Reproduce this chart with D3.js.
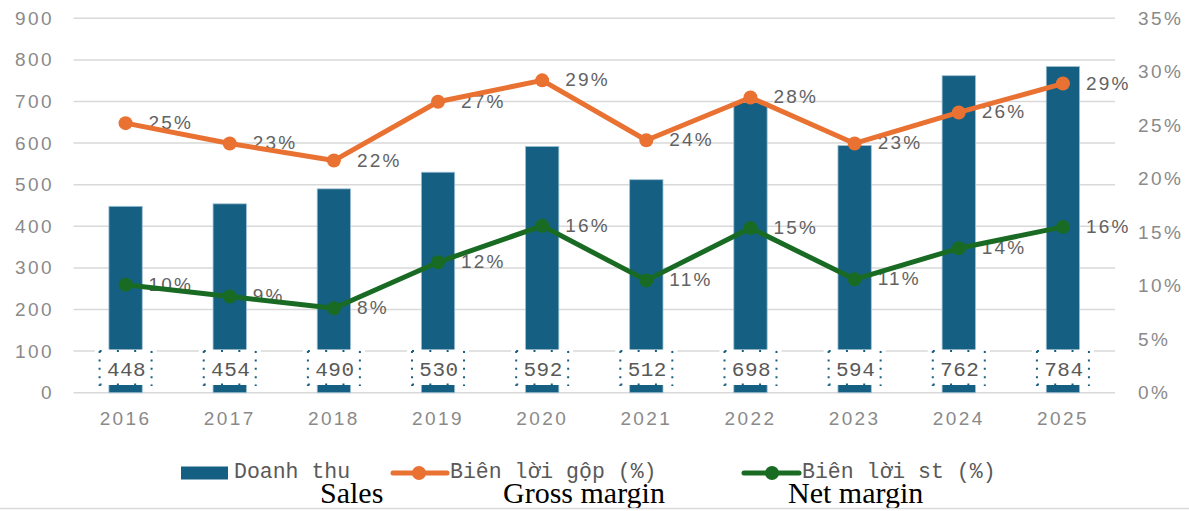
<!DOCTYPE html>
<html>
<head>
<meta charset="utf-8">
<script src="https://cdn.jsdelivr.net/npm/d3@7"></script>
<style>
  body { margin: 0; background: #fff; }
  svg { display: block; }
</style>
</head>
<body>
<div id="chart"></div>
<script>
// chart data
var years = ["2016", "2017", "2018", "2019", "2020", "2021", "2022", "2023", "2024", "2025"];
var sales = [448, 454, 490, 530, 592, 512, 698, 594, 762, 784];
var grossMargin = [25.2, 23.3, 21.7, 27.2, 29.2, 23.6, 27.6, 23.3, 26.2, 28.9];
var netMargin = [10.1, 9.0, 7.9, 12.2, 15.6, 10.5, 15.4, 10.6, 13.5, 15.5];
var leftTicks = [0, 100, 200, 300, 400, 500, 600, 700, 800, 900];
var rightTicks = [0, 5, 10, 15, 20, 25, 30, 35];

var W = 1189, H = 511;
// note: "top" is reserved on window, so keep plot edges in an object
var plot = { x0: 73.5, x1: 1115, y0: 18.3, y1: 392.7 };

var blue = "#156082", orange = "#e97132", green = "#196b24";
var sansFont = "'Liberation Sans', Arial, sans-serif";
var monoFont = "'Liberation Mono', 'Courier New', monospace";

var svg = d3.select("#chart").append("svg")
  .attr("width", W)
  .attr("height", H);

var x = d3.scaleBand().domain(years).range([plot.x0, plot.x1]).paddingInner(0.68).paddingOuter(0.34);
var yL = d3.scaleLinear().domain([0, 900]).range([plot.y1, plot.y0]);
var yR = d3.scaleLinear().domain([0, 35]).range([plot.y1, plot.y0]);
var cx = function (d, i) { return x(years[i]) + x.bandwidth() / 2; };

// gridlines
svg.append("g").selectAll("line")
  .data(leftTicks)
  .enter().append("line")
  .attr("x1", plot.x0).attr("x2", plot.x1)
  .attr("y1", d => yL(d)).attr("y2", d => yL(d))
  .attr("stroke", "#d9d9d9")
  .attr("stroke-width", 1.5);

// left axis
var axL = svg.append("g")
  .attr("transform", "translate(52,0)")
  .call(d3.axisLeft(yL).tickValues(leftTicks).tickSize(0).tickPadding(0));
axL.select(".domain").remove();

// right axis
var axR = svg.append("g")
  .attr("transform", "translate(1138,0)")
  .call(d3.axisRight(yR).tickValues(rightTicks).tickSize(0).tickPadding(0).tickFormat(d => d + "%"));
axR.select(".domain").remove();

// x axis
var axX = svg.append("g")
  .attr("transform", "translate(0," + plot.y1 + ")")
  .call(d3.axisBottom(x).tickSize(0).tickPadding(19));
axX.select(".domain").remove();

svg.selectAll(".tick text")
  .attr("font-family", sansFont)
  .attr("font-size", 19)
  .attr("letter-spacing", "2.4px")
  .attr("fill", "#8a8a8a");
axL.selectAll(".tick text").attr("dx", "2px");

// bars
svg.append("g").selectAll("rect")
  .data(sales)
  .enter().append("rect")
  .attr("x", (d, i) => x(years[i]))
  .attr("y", d => yL(d))
  .attr("width", x.bandwidth())
  .attr("height", d => plot.y1 - yL(d))
  .attr("fill", blue)
  .attr("stroke", "#9dbfd3")
  .attr("stroke-width", 0.8);

// bar value labels in dotted boxes
var boxes = svg.append("g").selectAll("g")
  .data(sales)
  .enter().append("g")
  .attr("transform", (d, i) => "translate(" + cx(d, i) + ",0)");

boxes.append("rect")
  .attr("x", -31).attr("y", 349.5)
  .attr("width", 62).attr("height", 35.5)
  .attr("fill", "#fff");

// sparse dots along top/bottom, denser along the sides
boxes.append("path")
  .attr("d", "M-26,351H26M-26,384.5H26")
  .attr("fill", "none")
  .attr("stroke", blue)
  .attr("stroke-width", 2)
  .attr("stroke-dasharray", "2,15.3");
boxes.append("path")
  .attr("d", "M-26,351V386M26,351V386")
  .attr("fill", "none")
  .attr("stroke", blue)
  .attr("stroke-width", 2)
  .attr("stroke-dasharray", "2,6.4");

boxes.append("text")
  .attr("x", 1).attr("y", 376)
  .attr("text-anchor", "middle")
  .attr("font-family", monoFont)
  .attr("font-size", 21)
  .attr("letter-spacing", "0.5px")
  .attr("fill", "#595959")
  .text(d => d);

// data labels (drawn under the lines)
function pointLabels(values) {
  svg.append("g").selectAll("text")
    .data(values)
    .enter().append("text")
    .attr("x", (d, i) => cx(d, i) + 23)
    .attr("y", d => yR(d) + 6)
    .attr("font-family", sansFont)
    .attr("font-size", 19)
    .attr("letter-spacing", "2.2px")
    .attr("fill", "#626262")
    .text(d => Math.round(d) + "%");
}
pointLabels(grossMargin);
pointLabels(netMargin);

// lines with markers
function drawLine(values, color) {
  var line = d3.line()
    .x((d, i) => cx(d, i))
    .y(d => yR(d));
  svg.append("path")
    .datum(values)
    .attr("d", line)
    .attr("fill", "none")
    .attr("stroke", color)
    .attr("stroke-width", 5)
    .attr("stroke-linejoin", "round");
  svg.append("g").selectAll("circle")
    .data(values)
    .enter().append("circle")
    .attr("cx", (d, i) => cx(d, i))
    .attr("cy", d => yR(d))
    .attr("r", 7)
    .attr("fill", color);
}
drawLine(grossMargin, orange);
drawLine(netMargin, green);

// legend
var legY = 473;
var lg = svg.append("g");
lg.append("rect")
  .attr("x", 181).attr("y", legY - 6.5)
  .attr("width", 47).attr("height", 13)
  .attr("fill", blue);
lg.append("text").attr("x", 234).attr("y", 478).text("Doanh thu");

lg.append("line").attr("x1", 393).attr("x2", 447).attr("y1", legY).attr("y2", legY)
  .attr("stroke", orange).attr("stroke-width", 5).attr("stroke-linecap", "round");
lg.append("circle").attr("cx", 419).attr("cy", legY).attr("r", 7).attr("fill", orange);
lg.append("text").attr("x", 450).attr("y", 478).text("Biên lời gộp (%)");

lg.append("line").attr("x1", 744).attr("x2", 799).attr("y1", legY).attr("y2", legY)
  .attr("stroke", green).attr("stroke-width", 5).attr("stroke-linecap", "round");
lg.append("circle").attr("cx", 772).attr("cy", legY).attr("r", 7).attr("fill", green);
lg.append("text").attr("x", 802).attr("y", 478).text("Biên lời st (%)");

lg.selectAll("text")
  .attr("font-family", monoFont)
  .attr("font-size", 21.5)
  .attr("fill", "#595959");

// english captions
var captions = [["Sales", 320], ["Gross margin", 503], ["Net margin", 788]];
svg.append("g").selectAll("text")
  .data(captions)
  .enter().append("text")
  .attr("x", d => d[1])
  .attr("y", 503)
  .attr("font-family", "'Liberation Serif', 'Times New Roman', serif")
  .attr("font-size", 30)
  .attr("fill", "#000")
  .text(d => d[0]);

// bottom rule
svg.append("line")
  .attr("x1", 0).attr("x2", W)
  .attr("y1", 508.5).attr("y2", 508.5)
  .attr("stroke", "#d9d9d9")
  .attr("stroke-width", 1.5);
</script>
</body>
</html>
